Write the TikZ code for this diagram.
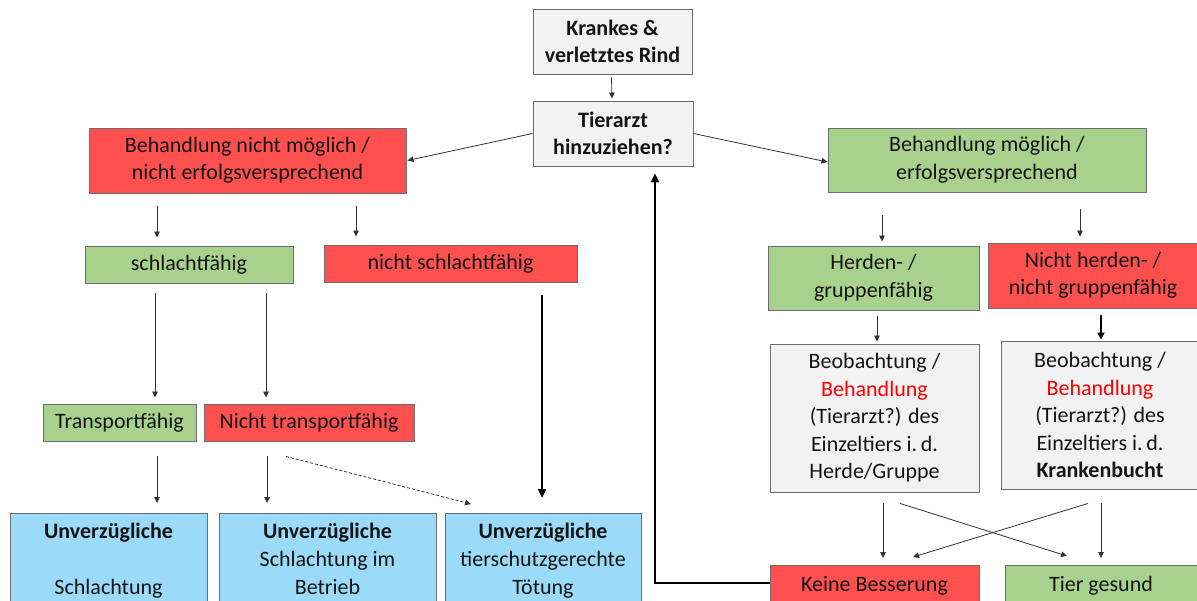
\documentclass[tikz,border=0pt]{standalone}
\usepackage{fontspec}
\setmainfont{Carlito}
\usetikzlibrary{arrows.meta,calc}
\definecolor{boxred}{RGB}{255,80,80}
\definecolor{boxgreen}{RGB}{169,209,142}
\definecolor{boxblue}{RGB}{155,218,248}
\definecolor{boxgray}{RGB}{242,242,242}
\definecolor{edgec}{RGB}{110,110,110}
\definecolor{txtc}{RGB}{20,20,20}
\definecolor{linec}{RGB}{50,50,50}
\definecolor{hlred}{RGB}{255,0,0}
\begin{document}
\begin{tikzpicture}[x=1pt,y=-1pt,
  box/.style={draw=edgec, line width=0.9pt, align=center, text=txtc, inner sep=0pt,
    font=\fontsize{22}{27.5}\selectfont},
  boldtext/.style={font=\fontsize{22}{27.5}\selectfont\bfseries},
  gbox/.style={box, fill=boxgreen},
  rbox/.style={box, fill=boxred},
  bbox/.style={box, fill=boxblue},
  grbox/.style={box, fill=boxgray},
  plaintext/.style={align=center, text=txtc, inner sep=0pt, font=\fontsize{22}{28}\selectfont},
  arr/.style={draw=linec, line width=0.8pt, -{Triangle[length=6pt,width=5.5pt]}},
  dasharr/.style={arr, dash pattern=on 3pt off 2pt},
  medarr/.style={draw=black, line width=2pt, -{Triangle[length=7pt,width=7pt]}},
  thickarr/.style={draw=black, line width=2.6pt, -{Triangle[length=9pt,width=8pt]}},
]
\clip (0,0) rectangle (1197,601);
\fill[white] (0,0) rectangle (1197,601);

% top
\node[grbox, boldtext, minimum width=159pt, minimum height=65pt] (krank) at (612.5,41.5) {Krankes \&\\verletztes Rind};
\node[grbox, boldtext, minimum width=160pt, minimum height=65pt] (tierarzt) at (613,133.5) {Tierarzt\\hinzuziehen?};

% left branch
\node[rbox, minimum width=317pt, minimum height=65pt] (nbm) at (247.5,160.5) {Behandlung nicht möglich /\\nicht erfolgsversprechend};
\node[gbox, minimum width=208pt, minimum height=37pt] (schl) at (189,264.5) {schlachtfähig};
\node[rbox, minimum width=253pt, minimum height=37pt] (nschl) at (450.5,263.5) {nicht schlachtfähig};
\node[gbox, minimum width=153pt, minimum height=37pt] (trans) at (119.5,422.5) {Transportfähig};
\node[rbox, minimum width=210pt, minimum height=37pt] (ntrans) at (309,422.5) {Nicht transportfähig};

\node[bbox, anchor=north, minimum width=197pt, minimum height=110pt] (b1) at (108.5,513) {};
\node[bbox, anchor=north, minimum width=217pt, minimum height=110pt] (b2) at (327.5,513) {};
\node[bbox, anchor=north, minimum width=196pt, minimum height=110pt] (b3) at (543,513) {};
\node[plaintext, anchor=north] (b1t) at ($(b1.north)+(0,10)$) {\textbf{Unverzügliche}\\\mbox{}\\Schlachtung};
\node[plaintext, anchor=north] (b2t) at ($(b2.north)+(0,10)$) {\textbf{Unverzügliche}\\Schlachtung im\\Betrieb};
\node[plaintext, anchor=north] (b3t) at ($(b3.north)+(0,10)$) {\textbf{Unverzügliche}\\tierschutzgerechte\\Tötung};

% right branch
\node[gbox, minimum width=318pt, minimum height=64pt] (bm) at (987,160) {Behandlung möglich /\\erfolgsversprechend};
\node[gbox, minimum width=211pt, minimum height=64pt] (herd) at (873.5,278) {Herden- /\\gruppenfähig};
\node[rbox, minimum width=210pt, minimum height=65pt] (nherd) at (1093,275.5) {Nicht herden- /\\nicht gruppenfähig};
\node[grbox, minimum width=209pt, minimum height=148pt] (beob1) at (874.5,418) {Beobachtung /\\\textcolor{hlred}{Behandlung}\\(Tierarzt?) des\\Einzeltiers i.\,d.\\Herde/Gruppe};
\node[grbox, minimum width=198pt, minimum height=148pt] (beob2) at (1100,415) {Beobachtung /\\\textcolor{hlred}{Behandlung}\\(Tierarzt?) des\\Einzeltiers i.\,d.\\\textbf{Krankenbucht}};
\node[rbox, anchor=north, minimum width=209pt, minimum height=60pt] (keine) at (874.5,565) {};
\node[gbox, anchor=north, minimum width=192pt, minimum height=60pt] (gesund) at (1101,565) {};
\node[plaintext] (keinet) at ($(keine.north)+(0,21)$) {Keine Besserung};
\node[plaintext] (gesundt) at ($(gesund.north)+(0,21)$) {Tier gesund};

% connectors
\draw[arr] ($(krank.south)+(-1,3)$) -- ($(tierarzt.north)+(-1,-2)$);
\draw[arr] (tierarzt.west) -- ($(nbm.east)+(1,0)$);
\draw[arr] (tierarzt.east) -- ($(bm.west)+(0,2)$);
\draw[arr] ($(nbm.south)+(-90.5,13)$) -- ($(schl.north)+(-32,-8)$);
\draw[arr] ($(nbm.south)+(108.5,13)$) -- ($(nschl.north)+(-94.5,-8)$);
\draw[arr] ($(schl.south)+(-34,10)$) -- ($(trans.north)+(35.5,-6)$);
\draw[arr] ($(schl.south)+(77,10)$) -- ($(ntrans.north)+(-43,-6)$);
\draw[thickarr] ($(nschl.south)+(91.5,13)$) -- ($(b3.north)+(-1,-15)$);
\draw[arr] ($(trans.south)+(37.5,15)$) -- ($(b1.north)+(48.5,-10)$);
\draw[arr] ($(ntrans.south)+(-42,15)$) -- ($(b2.north)+(-60.5,-10)$);
\draw[dasharr] ($(ntrans.south)+(-23,15)$) -- ($(b3.north)+(-72,-9)$);

\draw[arr] ($(bm.south)+(-105,23)$) -- ($(herd.north)+(8.5,-4)$);
\draw[arr] ($(bm.south)+(93,17)$) -- ($(nherd.north)+(-13,-6)$);
\draw[arr] ($(herd.south)+(3.5,6)$) -- ($(beob1.north)+(2.5,-2)$);
\draw[medarr] ($(nherd.south)+(8,7)$) -- ($(beob2.north)+(1,-1)$);
\draw[arr] ($(beob1.south)+(8.5,11)$) -- ($(keine.north)+(8.5,-7)$);
\draw[arr] ($(beob1.south)+(25.5,11)$) -- ($(gesund.north)+(-34,-9)$);
\draw[arr] ($(beob2.south)+(-12,14)$) -- ($(keine.north)+(38.5,-8)$);
\draw[arr] ($(beob2.south)+(1,14)$) -- ($(gesund.north)+(0,-7)$);
\draw[thickarr] ($(keine.north west)+(0,18)$) -| ($(tierarzt.south)+(42,7)$);
\end{tikzpicture}
\end{document}
